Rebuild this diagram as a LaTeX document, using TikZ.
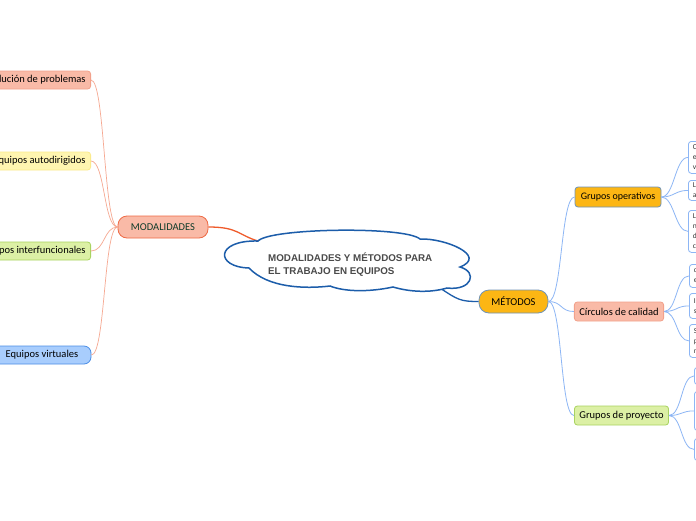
\documentclass[tikz,border=0pt]{standalone}
\usepackage{fontspec}
\setmainfont{Carlito}
\newfontfamily\cloudfont{Liberation Sans}
\definecolor{salmon}{HTML}{F9BAA7}
\definecolor{salmonb}{HTML}{F2A18B}
\definecolor{modb}{HTML}{EE6A45}
\definecolor{modtext}{HTML}{0E3B2A}
\definecolor{yel}{HTML}{FFF5B0}
\definecolor{yelb}{HTML}{FBEA8C}
\definecolor{grn}{HTML}{DCF0A5}
\definecolor{grnb}{HTML}{A9D360}
\definecolor{blu}{HTML}{A8CDFD}
\definecolor{blub}{HTML}{4B8EE6}
\definecolor{amber}{HTML}{FCB614}
\definecolor{amberb}{HTML}{6F93B8}
\definecolor{cloudb}{HTML}{1C5DAA}
\definecolor{cloudtext}{HTML}{4A4A4A}
\definecolor{leafb}{HTML}{8DB6F5}
\definecolor{lcon}{HTML}{F6A891}
\definecolor{rcon}{HTML}{8DB6F5}
\definecolor{modcon}{HTML}{EF5A2A}
\tikzset{
  topic/.style={draw, rounded corners=3pt, line width=0.8pt, font=\fontsize{10.5}{12}\selectfont, inner xsep=5pt, inner ysep=0pt, minimum height=18pt},
  leaf/.style={draw=leafb, fill=white, rounded corners=3pt, line width=0.8pt, anchor=north west, text width=34pt, inner xsep=4.5pt, inner ysep=0pt, align=left, font=\fontsize{7.5}{10}\selectfont, text=black!80},
  lline/.style={draw=lcon, line width=0.7pt},
  rline/.style={draw=rcon, line width=0.8pt},
}
\begin{document}
\begin{tikzpicture}[x=1pt,y=-1pt]
\useasboundingbox (0,0) rectangle (696,520);
\fill[white] (0,0) rectangle (696,520);

% left topics
\node[topic, fill=salmon, draw=salmonb, anchor=east] (sol) at (91,80) {Solución de problemas};
\node[topic, fill=yel, draw=yelb, anchor=east] (aut) at (91,161) {Equipos autodirigidos};
\node[topic, fill=grn, draw=grnb, anchor=east] (int) at (91,251) {Equipos interfuncionales};
\node[topic, fill=blu, draw=blub, rounded corners=7pt, minimum width=98pt] (vir) at (42,355) {Equipos virtuales};

\node[topic, fill=salmon, draw=modb, rounded corners=9pt, minimum width=90pt, minimum height=22pt, text=modtext] (mod) at (163,227) {MODALIDADES};

\foreach \t in {sol,aut,int,vir}
  \draw[lline] (mod.west) .. controls +(-14,0) and +(14,0) .. (\t.east);

% right side
\node[topic, fill=amber, draw=amberb, rounded corners=10pt, minimum width=69pt, minimum height=23pt] (met) at (513.5,301.5) {MÉTODOS};
\node[topic, fill=amber, draw=amberb, minimum width=86pt, minimum height=20pt, font=\fontsize{10}{12}\selectfont] (gop) at (618,197) {Grupos operativos};
\node[topic, fill=salmon, draw=salmonb, minimum width=88pt, minimum height=19pt] (cir) at (619,311.5) {Círculos de calidad};
\node[topic, fill=grn, draw=grnb, minimum width=93pt, minimum height=19pt] (gpr) at (621.5,415.5) {Grupos de proyecto};

\foreach \t in {gop,cir,gpr}
  \draw[rline] (met.east) .. controls +(14,0) and +(-14,0) .. (\t.west);

% leaves of Grupos operativos
\node[leaf, minimum height=32pt] (o1) at (688,141) {C\\e\\v};
\node[leaf, minimum height=20pt] (o2) at (688,180) {L\\a};
\node[leaf, minimum height=42pt] (o3) at (688,210) {L\\n\\d\\c};
% leaves of Circulos de calidad
\node[leaf, minimum height=23pt] (c1) at (689,264) {c\\e};
\node[leaf, minimum height=25pt] (c2) at (689,293) {I\\s};
\node[leaf, minimum height=33pt] (c3) at (689,324) {S\\p\\n};
% leaves of Grupos de proyecto
\node[leaf, minimum height=17pt] (p1) at (694,367) {};
\node[leaf, minimum height=39pt] (p2) at (694,391) {};
\node[leaf, minimum height=22pt] (p3) at (694,438) {};

\foreach \t in {o1,o2,o3}
  \draw[rline] (gop.east) .. controls +(13,0) and +(-13,0) .. (\t.west);
\foreach \t in {c1,c2,c3}
  \draw[rline] (cir.east) .. controls +(13,0) and +(-13,0) .. (\t.west);
\foreach \t in {p1,p2,p3}
  \draw[rline] (gpr.east) .. controls +(13,0) and +(-13,0) .. (\t.west);

% central cloud
\coordinate (clA) at (258,241);
\coordinate (clB) at (440,288);
\draw[draw=modcon, line width=1.3pt] (mod.east) .. controls +(30,0) and +(-20,-6) .. (clA);
\draw[draw=cloudb, line width=1.3pt] (clB) .. controls +(18,12) and +(-18,0) .. (met.west);
\draw[draw=cloudb, fill=white, line width=1.5pt]
  (258,241) .. controls (270,228) and (405,226) .. (420,239)
  .. controls (445,238) and (488,256) .. (460,267)
  .. controls (478,272) and (472,291) .. (447,288)
  .. controls (430,293) and (410,292) .. (393,287)
  .. controls (370,292) and (345,292) .. (330,286)
  .. controls (305,289) and (268,288) .. (249,268)
  .. controls (215,267) and (215,240) .. (258,241) -- cycle;
\node[font=\cloudfont\bfseries\fontsize{9.8}{12.5}\selectfont, text=cloudtext, align=left, anchor=west, inner sep=0pt] (ct) at (268,264.5) {MODALIDADES Y MÉTODOS PARA\\EL TRABAJO EN EQUIPOS};
\end{tikzpicture}
\end{document}
